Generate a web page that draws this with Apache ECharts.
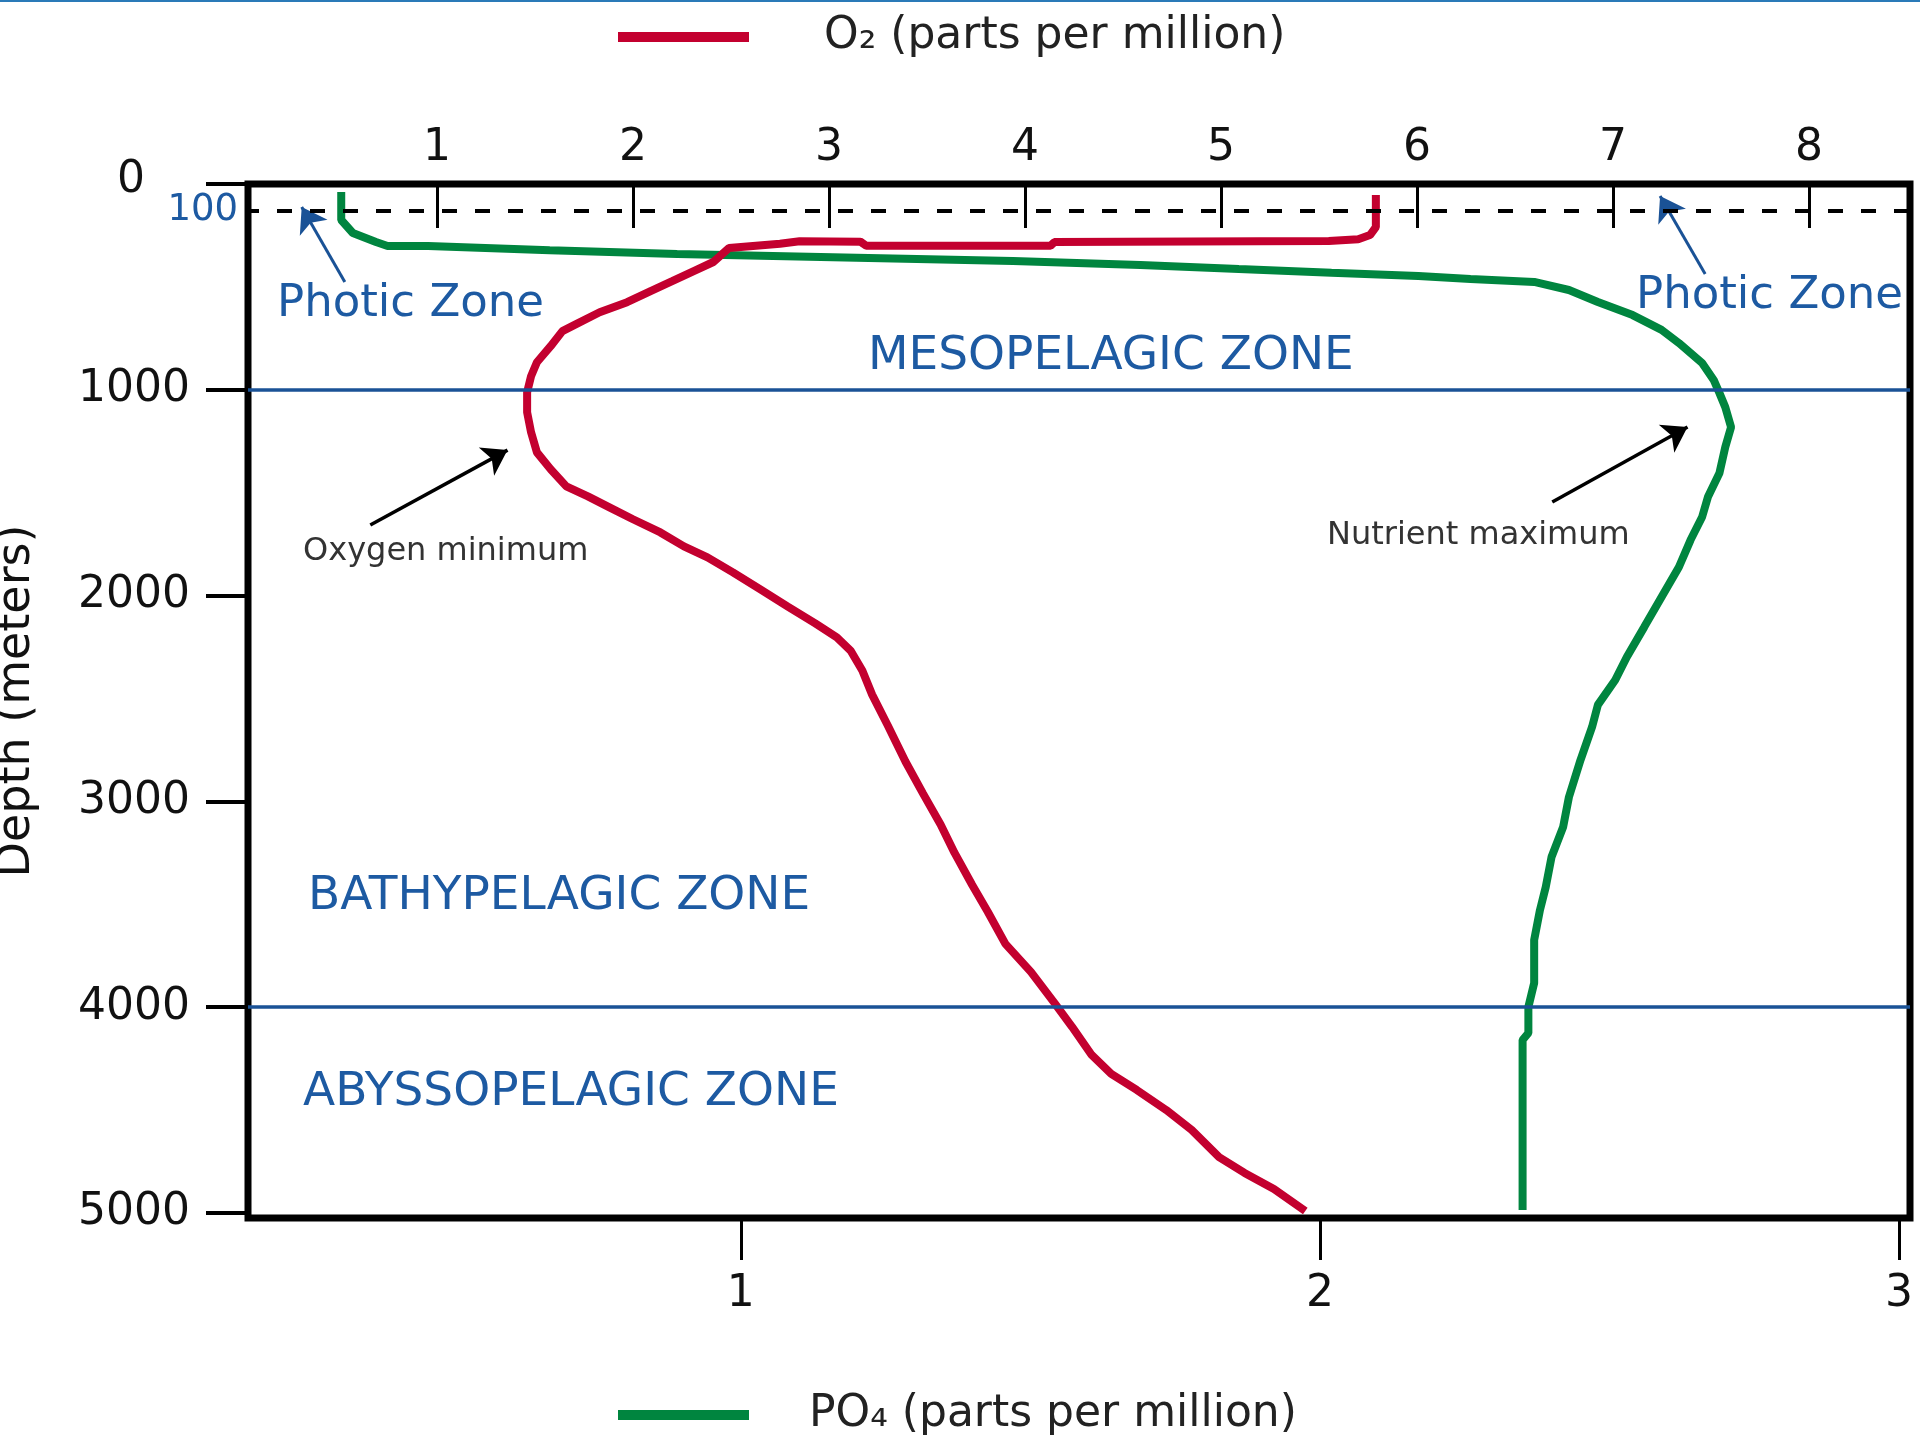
<!DOCTYPE html>
<html>
<head>
<meta charset="utf-8">
<title>Depth profile of O2 and PO4</title>
<script src="https://cdn.jsdelivr.net/npm/echarts@6.0.0/dist/echarts.min.js"></script>
<style>
  html, body { margin: 0; padding: 0; background: #fff; }
  #chart { width: 1920px; height: 1440px; }
</style>
</head>
<body>
<div id="chart"></div>
<script>
// tick labels
const depthTicks = [0, 1000, 2000, 3000, 4000, 5000];
const o2Ticks = [1, 2, 3, 4, 5, 6, 7, 8];
const po4Ticks = [1, 2, 3];

const o2Name = 'O₂ (parts per million)';
const po4Name = 'PO₄ (parts per million)';

// [O2 ppm, depth m]
const o2Values = [
  [5.79, 53], [5.79, 209], [5.76, 248], [5.70, 268], [5.55, 277], [4.15, 282],
  [4.13, 300], [3.19, 300], [3.16, 280], [2.85, 278], [2.75, 290], [2.49, 311],
  [2.41, 379], [2.31, 423], [2.20, 472], [2.09, 520], [1.97, 574], [1.83, 623],
  [1.71, 681], [1.64, 715], [1.58, 788], [1.51, 866], [1.48, 934], [1.46, 1012],
  [1.46, 1109], [1.48, 1206], [1.51, 1304], [1.58, 1386], [1.66, 1469], [1.77, 1518],
  [1.88, 1571], [2.00, 1629], [2.14, 1693], [2.26, 1761], [2.38, 1814], [2.51, 1887],
  [2.65, 1970], [2.79, 2053], [2.93, 2135], [3.04, 2203], [3.11, 2267], [3.17, 2364],
  [3.22, 2481], [3.30, 2631], [3.39, 2806], [3.48, 2962], [3.57, 3113], [3.64, 3249],
  [3.73, 3405], [3.81, 3536], [3.90, 3692], [4.03, 3828], [4.15, 3979], [4.24, 4095],
  [4.34, 4232], [4.44, 4324], [4.57, 4402], [4.72, 4499], [4.85, 4596], [4.99, 4728],
  [5.12, 4805], [5.27, 4883], [5.43, 4990]
];

// [PO4 ppm, depth m]
const po4Values = [
  [0.31, 39], [0.31, 175], [0.33, 238], [0.37, 282], [0.39, 301], [0.46, 301],
  [0.67, 322], [0.89, 340], [1.20, 358], [1.47, 374], [1.69, 393], [1.86, 413],
  [2.02, 431], [2.17, 447], [2.26, 462], [2.37, 476], [2.43, 515], [2.48, 573],
  [2.54, 637], [2.59, 709], [2.62, 773], [2.66, 870], [2.68, 952], [2.69, 1016],
  [2.70, 1084], [2.71, 1181], [2.70, 1278], [2.69, 1404], [2.67, 1521], [2.66, 1618],
  [2.64, 1730], [2.62, 1861], [2.59, 2007], [2.56, 2153], [2.53, 2298], [2.51, 2410],
  [2.48, 2531], [2.47, 2638], [2.45, 2799], [2.43, 2979], [2.42, 3124], [2.40, 3270],
  [2.39, 3416], [2.38, 3528], [2.37, 3673], [2.37, 3882], [2.36, 3999], [2.36, 4125],
  [2.35, 4159], [2.35, 4985]
];

// zone boundaries (m) and the photic line
const zoneBounds = [1000, 4000];
const photicDepth = 130;
const photicLabel = '100';

// annotation arrows in O2 / depth units: [from, to]
const blueArrows = [
  [[0.53, 476], [0.31, 112]],
  [[7.47, 437], [7.24, 58]]
];
const blackArrows = [
  [[0.66, 1657], [1.36, 1293]],
  [[6.69, 1545], [7.38, 1181]]
];

const FONT = "'DejaVu Sans', Verdana, sans-serif";
const RED = '#c3002f';
const GREEN = '#00853f';
const BLUE = '#1a5296';
const TEXT_BLUE = '#1d5aa2';

const chart = echarts.init(document.getElementById('chart'));

function arrowPairs(list, color, width, head) {
  return list.map(function (a) {
    return [
      { coord: a[0], symbol: 'none', lineStyle: { color: color, width: width, type: 'solid' } },
      { coord: a[1], symbol: 'arrow', symbolSize: head }
    ];
  });
}

function zoneText(text, x, y, size, color) {
  return {
    type: 'text', x: x, y: y, z: 10,
    style: { text: text, fontFamily: FONT, fontSize: size, fill: color, verticalAlign: 'middle' }
  };
}

chart.setOption({
  animation: false,
  backgroundColor: '#fff',
  textStyle: { fontFamily: FONT },
  grid: {
    left: 248, right: 10, top: 184, bottom: 222,
    outerBoundsMode: 'none', containLabel: false,
    show: true, borderColor: '#000', borderWidth: 7, backgroundColor: 'transparent'
  },
  legend: [
    {
      data: [{ name: o2Name, icon: 'rect' }],
      left: 618, top: 14, padding: 0,
      itemWidth: 131, itemHeight: 10,
      selectedMode: false,
      textStyle: { fontSize: 44, fontFamily: FONT, color: '#222', lineHeight: 46, padding: [0, 0, 0, 70] }
    },
    {
      data: [{ name: po4Name, icon: 'rect' }],
      left: 618, top: 1392, padding: 0,
      itemWidth: 131, itemHeight: 10,
      selectedMode: false,
      textStyle: { fontSize: 44, fontFamily: FONT, color: '#222', lineHeight: 46, padding: [0, 0, 0, 55] }
    }
  ],
  xAxis: [
    {
      type: 'value', position: 'top',
      min: 0.036, max: 8.515,
      axisLine: { show: false },
      splitLine: { show: false },
      axisTick: { show: true, inside: true, length: 44, customValues: o2Ticks,
        lineStyle: { color: '#000', width: 3 } },
      axisLabel: { customValues: o2Ticks, margin: 13, fontSize: 44, fontFamily: FONT, color: '#111' }
    },
    {
      type: 'value', position: 'bottom',
      min: 0.149, max: 3.019,
      axisLine: { show: false },
      splitLine: { show: false },
      axisTick: { show: true, inside: false, length: 42, customValues: po4Ticks,
        lineStyle: { color: '#000', width: 3 } },
      axisLabel: { customValues: po4Ticks, margin: 55, fontSize: 44, fontFamily: FONT, color: '#111' }
    }
  ],
  yAxis: {
    type: 'value', inverse: true,
    min: 0, max: 5024,
    name: 'Depth (meters)', nameLocation: 'middle', nameGap: 208,
    nameTextStyle: { fontSize: 46, fontFamily: FONT, color: '#111' },
    axisLine: { show: false },
    splitLine: { show: false },
    axisTick: { show: true, inside: false, length: 42, customValues: depthTicks,
      lineStyle: { color: '#000', width: 4 } },
    axisLabel: {
      customValues: depthTicks, margin: 58, fontSize: 44, fontFamily: FONT, color: '#111',
      formatter: function (v) { return v === 0 ? '{z|0}' : String(v); },
      rich: { z: { fontSize: 44, fontFamily: FONT, color: '#111', padding: [0, 45, 6, 0] } }
    }
  },
  series: [
    {
      name: o2Name, type: 'line', xAxisIndex: 0, yAxisIndex: 0,
      data: o2Values, symbol: 'none', color: RED,
      lineStyle: { color: RED, width: 8 }, itemStyle: { color: RED }, z: 4,
      markLine: {
        silent: true, animation: false,
        label: { show: false },
        data: arrowPairs(blueArrows, BLUE, 3, 24).concat(arrowPairs(blackArrows, '#000', 3.5, 24))
      }
    },
    {
      name: po4Name, type: 'line', xAxisIndex: 1, yAxisIndex: 0,
      data: po4Values, symbol: 'none', color: GREEN,
      lineStyle: { color: GREEN, width: 8 }, itemStyle: { color: GREEN }, z: 3,
      markLine: {
        silent: true, animation: false, symbol: 'none',
        label: { show: false },
        data: zoneBounds.map(function (d) {
          return { yAxis: d, lineStyle: { color: BLUE, width: 3.5, type: 'solid' } };
        }).concat([{
          yAxis: photicDepth,
          lineStyle: { color: '#000', width: 4, type: [15, 18], dashOffset: 4 },
          label: { show: true, position: 'start', distance: 10, formatter: photicLabel,
            fontSize: 37, fontFamily: FONT, color: TEXT_BLUE }
        }])
      }
    }
  ],
  graphic: [
    { type: 'line', shape: { x1: 0, y1: 1, x2: 1920, y2: 1 }, style: { stroke: '#2a7ab8', lineWidth: 2 } },
    zoneText('Photic Zone', 277, 304, 45, TEXT_BLUE),
    zoneText('Photic Zone', 1636, 296, 45, TEXT_BLUE),
    zoneText('MESOPELAGIC ZONE', 868, 357, 47, TEXT_BLUE),
    zoneText('BATHYPELAGIC ZONE', 308, 897, 47, TEXT_BLUE),
    zoneText('ABYSSOPELAGIC ZONE', 303, 1093, 47, TEXT_BLUE),
    zoneText('Oxygen minimum', 303, 552, 32, '#333'),
    zoneText('Nutrient maximum', 1327, 536, 32, '#333')
  ]
});
</script>
</body>
</html>
